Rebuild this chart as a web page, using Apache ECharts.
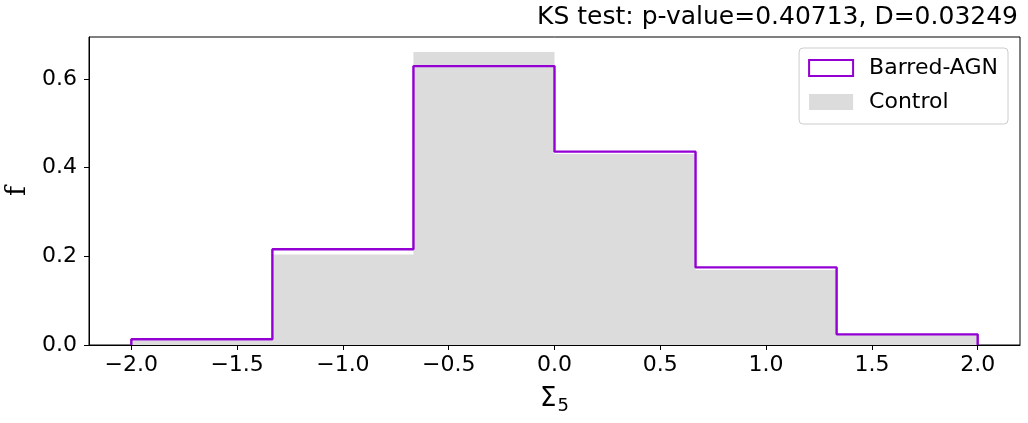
<!DOCTYPE html>
<html>
<head>
<meta charset="utf-8">
<script src="https://cdn.jsdelivr.net/npm/echarts@6/dist/echarts.min.js"></script>
<style>
  html, body { margin: 0; padding: 0; background: #fff; }
  #chart { width: 1028px; height: 423px; }
</style>
</head>
<body>
<div id="chart"></div>
<script>
// bin edges of the histograms (6 bins from -2 to 2)
var binEdges = [-2, -4 / 3, -2 / 3, 0, 2 / 3, 4 / 3, 2];
// normalised counts (density)
var barredAgn = [0.013, 0.216, 0.629, 0.436, 0.175, 0.024];
var control = [0.010, 0.204, 0.661, 0.431, 0.169, 0.024];
var xTicks = [-2.0, -1.5, -1.0, -0.5, 0.0, 0.5, 1.0, 1.5, 2.0];
var yTicks = [0.0, 0.2, 0.4, 0.6];

var FONT = 'DejaVu Sans';

// step outline points: up from 0 at the first edge, across every bin, down to 0 at the last edge
function stepPoints(vals) {
    var pts = [[binEdges[0], 0]];
    for (var i = 0; i < vals.length; i++) {
        pts.push([binEdges[i], vals[i]]);
    }
    pts.push([binEdges[binEdges.length - 1], vals[vals.length - 1]]);
    pts.push([binEdges[binEdges.length - 1], 0]);
    return pts;
}

function fmt(v) {
    var s = Math.abs(v).toFixed(1);
    return v < 0 ? '\u2212' + s : s;
}

try {
    var chart = echarts.init(document.getElementById('chart'));
    var option = {
        animation: false,
        backgroundColor: '#fff',
        title: {
            text: 'KS test: p-value=0.40713, D=0.03249',
            right: 10,
            top: 5,
            padding: 0,
            textStyle: { fontFamily: FONT, fontSize: 25, fontWeight: 'normal', color: '#000' }
        },
        legend: {
            orient: 'vertical',
            right: 20,
            top: 48,
            padding: [9, 10, 11, 9],
            backgroundColor: '#fff',
            borderColor: '#cccccc',
            borderWidth: 1,
            borderRadius: 4,
            itemWidth: 44,
            itemHeight: 16,
            itemGap: 12,
            textStyle: { fontFamily: FONT, fontSize: 22, color: '#000', lineHeight: 22, padding: [0, 0, 0, 11] },
            data: [
                { name: 'Barred-AGN', icon: 'rect',
                  itemStyle: { color: '#fff', borderColor: '#9400d3', borderWidth: 2 } },
                { name: 'Control', icon: 'rect',
                  itemStyle: { color: '#dcdcdc', borderWidth: 0 } }
            ]
        },
        grid: {
            left: 89, right: 8, top: 37, bottom: 78,
            outerBoundsMode: 'none',
            containLabel: false,
            show: true, borderColor: '#000', borderWidth: 1
        },
        xAxis: {
            type: 'value',
            min: -2.2,
            max: 2.2,
            splitLine: { show: false },
            axisLine: { onZero: false, lineStyle: { color: '#000', width: 1 } },
            axisTick: { length: 5, lineStyle: { color: '#000' }, customValues: xTicks },
            axisLabel: {
                customValues: xTicks, formatter: fmt, margin: 9,
                fontFamily: FONT, fontSize: 22, color: '#000'
            },
            name: '{a|\u03a3}{b|5}',
            nameLocation: 'middle',
            nameGap: 41,
            nameTextStyle: {
                rich: {
                    a: { fontFamily: FONT, fontSize: 26, color: '#000', verticalAlign: 'bottom' },
                    b: { fontFamily: FONT, fontSize: 18, color: '#000', verticalAlign: 'bottom', padding: [0, 0, -3, 1] }
                }
            }
        },
        yAxis: {
            type: 'value',
            min: 0,
            max: 0.6946,
            splitLine: { show: false },
            axisLine: { show: true, onZero: false, lineStyle: { color: '#000', width: 1 } },
            axisTick: { show: true, length: 5, lineStyle: { color: '#000' }, customValues: yTicks },
            axisLabel: {
                customValues: yTicks, formatter: fmt, margin: 12,
                fontFamily: FONT, fontSize: 22, color: '#000'
            },
            name: 'f',
            nameLocation: 'middle',
            nameRotate: 90,
            nameGap: 55,
            nameTextStyle: { fontFamily: 'DejaVu Serif', fontSize: 27, color: '#000' }
        },
        series: [
            {
                name: 'Control',
                type: 'line',
                step: 'end',
                symbol: 'none',
                data: stepPoints(control),
                lineStyle: { width: 0 },
                itemStyle: { color: '#dcdcdc' },
                areaStyle: { color: '#dcdcdc', opacity: 1 },
                z: 1
            },
            {
                name: 'Barred-AGN',
                type: 'line',
                step: 'end',
                symbol: 'none',
                data: stepPoints(barredAgn),
                lineStyle: { color: '#9400d3', width: 2.4 },
                itemStyle: { color: '#9400d3' },
                z: 3
            }
        ]
    };
    chart.setOption(option);
} catch (e) {
    console.log(e);
}
</script>
</body>
</html>
